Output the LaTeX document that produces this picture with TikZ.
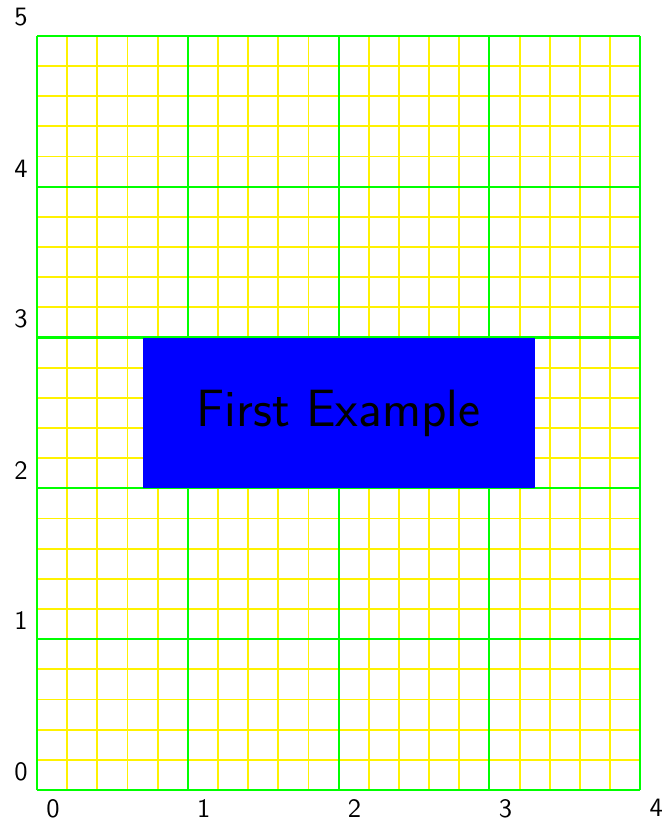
\documentclass[tikz,border=0pt]{standalone}
\usepackage{tikz}
\renewcommand{\familydefault}{\sfdefault}

\begin{document}
\begin{tikzpicture}[x=2cm,y=2cm]
\pgfmathsetmacro\gw{4}
\pgfmathsetmacro\gh{5}
\useasboundingbox (-0.245,-0.212) rectangle (4.146,5.238);

\draw[yellow,line width=0.7pt,step=0.2] (0,0) grid (\gw,\gh);
\draw[green,thick,step=1] (0,0) grid (\gw,\gh);
\foreach \x in {0,...,4} {
  \node[anchor=north west] (x\x) at (\x,0) {\x};
}
\foreach \y in {0,...,5} {
  \node[anchor=south east] (y\y) at (0,\y) {\y};
}
\node[fill=blue,minimum width=5.2cm,minimum height=2cm,font=\fontsize{19.8}{24}\selectfont] (first) at (2,2.5) {First Example};
\end{tikzpicture}
\end{document}
